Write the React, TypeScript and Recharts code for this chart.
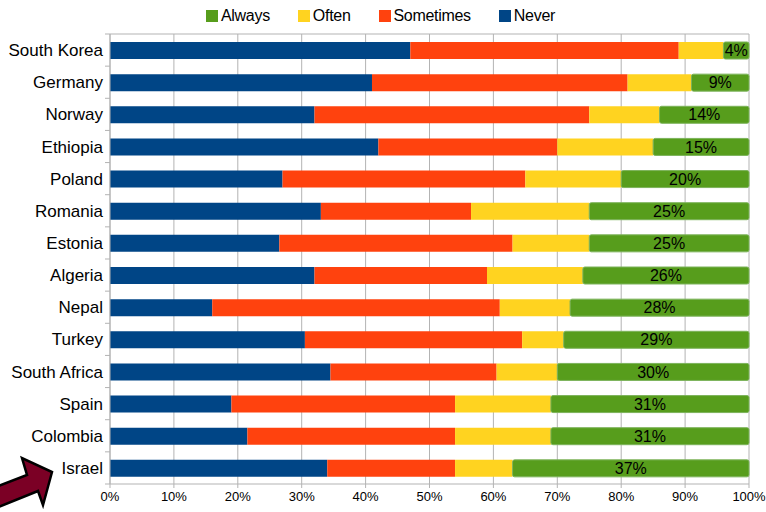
import React from "react"
import { BarChart, Bar, XAxis, YAxis, CartesianGrid, Legend, LabelList } from "recharts"

const countries = [
  "South Korea", "Germany", "Norway", "Ethiopia", "Poland", "Romania", "Estonia",
  "Algeria", "Nepal", "Turkey", "South Africa", "Spain", "Colombia", "Israel",
]
const never = [47, 41, 32, 42, 27, 33, 26.5, 32, 16, 30.5, 34.5, 19, 21.5, 34]
const sometimes = [42, 40, 43, 28, 38, 23.5, 36.5, 27, 45, 34, 26, 35, 32.5, 20]
const often = [7, 10, 11, 15, 15, 18.5, 12, 15, 11, 6.5, 9.5, 15, 15, 9]
const always = [4, 9, 14, 15, 20, 25, 25, 26, 28, 29, 30, 31, 31, 37]
const xTicks = [0, 10, 20, 30, 40, 50, 60, 70, 80, 90, 100]
const legendOrder = ["Always", "Often", "Sometimes", "Never"]

const COLORS = {
  never: "#004586",
  sometimes: "#ff420e",
  often: "#ffd320",
  always: "#579d1c",
}
const legendColors: Record<string, string> = {
  Always: COLORS.always,
  Often: COLORS.often,
  Sometimes: COLORS.sometimes,
  Never: COLORS.never,
}

const chartData = countries.map((name, i) => ({
  name,
  never: never[i],
  sometimes: sometimes[i],
  often: often[i],
  always: always[i],
}))

const FONT = "'Liberation Sans', Arial, sans-serif"
const PLOT_HEIGHT = 450

function CategoryTick(props: any) {
  const { x, y, payload, index } = props
  const step = PLOT_HEIGHT / countries.length
  return (
    <g>
      <line x1={x + 2} x2={x + 7} y1={y - step / 2} y2={y - step / 2} stroke="#b3b3b3" />
      {index === countries.length - 1 && (
        <line x1={x + 2} x2={x + 7} y1={y + step / 2} y2={y + step / 2} stroke="#b3b3b3" />
      )}
      <text x={x} y={y} dy={6} textAnchor="end" fontSize={17} fill="#000" fontFamily={FONT}>
        {payload.value}
      </text>
    </g>
  )
}

function LegendContent() {
  return (
    <div style={{ display: "flex", justifyContent: "center", alignItems: "center", height: 24, paddingLeft: 12 }}>
      {legendOrder.map((name) => (
        <div key={name} style={{ display: "flex", alignItems: "center", margin: "0 14px" }}>
          <span style={{ width: 12, height: 12, background: legendColors[name], display: "inline-block", marginRight: 3 }} />
          <span style={{ fontSize: 16, fontFamily: FONT, color: "#000", letterSpacing: -0.3 }}>{name}</span>
        </div>
      ))}
    </div>
  )
}

export default function App() {
  return (
    <div style={{ position: "absolute", left: 0, top: 0, width: 766, height: 512, background: "#fff" }}>
      <BarChart
        width={766}
        height={512}
        data={chartData}
        layout="vertical"
        margin={{ top: 10, right: 17, bottom: 0, left: 0 }}
        barSize={17}
      >
        <CartesianGrid
          stroke="#b3b3b3"
          horizontalCoordinatesGenerator={(p: any) => [p.offset.top]}
        />
        <XAxis
          type="number"
          domain={[0, 100]}
          ticks={xTicks}
          tickFormatter={(v: number) => `${v}%`}
          stroke="#b3b3b3"
          height={28}
          tickSize={4}
          tickMargin={4}
          interval={0}
          tick={{ fill: "#000", fontSize: 13, fontFamily: FONT }}
        />
        <YAxis
          type="category"
          dataKey="name"
          width={110}
          stroke="#b3b3b3"
          tickLine={false}
          tickSize={0}
          tickMargin={7}
          interval={0}
          tick={<CategoryTick />}
        />
        <Legend verticalAlign="top" align="center" content={<LegendContent />} wrapperStyle={{ top: 4 }} />
        <Bar dataKey="never" name="Never" stackId="a" fill={COLORS.never} isAnimationActive={false} />
        <Bar dataKey="sometimes" name="Sometimes" stackId="a" fill={COLORS.sometimes} isAnimationActive={false} />
        <Bar dataKey="often" name="Often" stackId="a" fill={COLORS.often} isAnimationActive={false} />
        <Bar dataKey="always" name="Always" stackId="a" fill={COLORS.always} stroke="#7cb35a" strokeWidth={1} radius={2} isAnimationActive={false}>
          <LabelList
            dataKey="always"
            position="center"
            formatter={(v: any) => `${v}%`}
            style={{ fill: "#000", fontSize: 16, fontFamily: FONT }}
          />
        </Bar>
      </BarChart>
      <svg width={70} height={60} style={{ position: "absolute", left: 0, top: 452 }}>
        <polygon
          points="-4,35 27,23 22,6 52,20 43,53 38,39 -4,56"
          fill="#7b0025"
          stroke="#000"
          strokeWidth={2.5}
          strokeLinejoin="miter"
        />
      </svg>
    </div>
  )
}
